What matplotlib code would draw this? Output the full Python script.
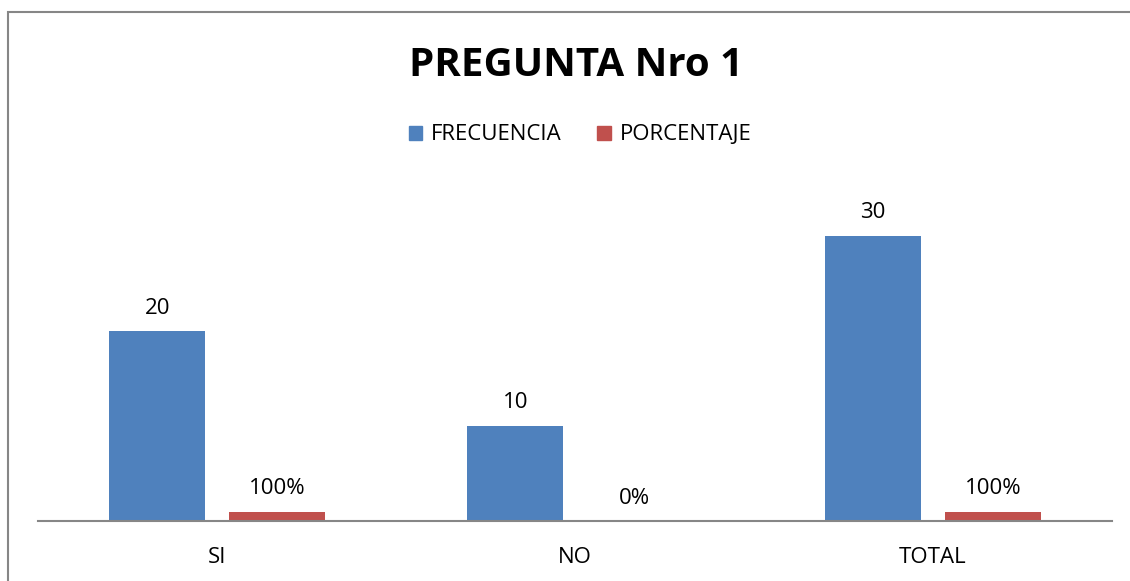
import numpy as np
import matplotlib
matplotlib.use("Agg")
import matplotlib.pyplot as plt
from matplotlib.patches import Rectangle, Patch

categorias = ["SI", "NO", "TOTAL"]
frecuencia = [20, 10, 30]
porcentaje = [1.0, 0.0, 1.0]
etiquetas_pct = ["100%", "0%", "100%"]

azul = "#4f81bd"
rojo = "#c0504d"

plt.rcParams["font.family"] = ["Open Sans", "DejaVu Sans"]

fig = plt.figure(figsize=(11.30, 5.81), dpi=100)
ax = fig.add_axes([38 / 1130, 60 / 581, (1112 - 38) / 1130, 332.5 / 581])

x = np.arange(len(categorias))
ancho = 0.268
desp = 0.167

ax.bar(x - desp, frecuencia, ancho, color=azul)
ax.bar(x + desp, porcentaje, ancho, color=rojo)

# etiquetas de datos
for xi, v in zip(x, frecuencia):
    ax.annotate(str(v), (xi - desp, v), xytext=(0, 9), textcoords="offset points",
                ha="center", va="bottom", fontsize=16)
for xi, v, t in zip(x, porcentaje, etiquetas_pct):
    ax.annotate(t, (xi + desp, v), xytext=(0, 9), textcoords="offset points",
                ha="center", va="bottom", fontsize=16)

ax.set_xlim(-0.5, 2.5)
ax.set_ylim(0, 35)
ax.set_xticks(x)
ax.set_xticklabels(categorias, fontsize=16)
ax.tick_params(axis="x", length=0, pad=19)
ax.set_yticks([])
for s in ["top", "right", "left"]:
    ax.spines[s].set_visible(False)
ax.spines["bottom"].set_color("#868686")
ax.spines["bottom"].set_linewidth(1.5)

fig.text(576 / 1130, 1 - 66 / 581, "PREGUNTA Nro 1", ha="center", va="center",
         fontsize=29, fontweight="bold")

handles = [Patch(color=azul, label="FRECUENCIA"), Patch(color=rojo, label="PORCENTAJE")]
fig.legend(handles=handles, loc="center", bbox_to_anchor=(580 / 1130, 1 - 135 / 581),
           ncol=2, frameon=False, fontsize=16, handlelength=0.6, handleheight=0.6,
           handletextpad=0.4, columnspacing=1.6)

# borde del gráfico
fig.patches.append(Rectangle((8 / 1130, -0.05), 1.2, 1 - 12 / 581 + 0.05,
                             transform=fig.transFigure, fill=False,
                             edgecolor="#868686", linewidth=1.5))

fig.savefig("out.png", dpi=100)
